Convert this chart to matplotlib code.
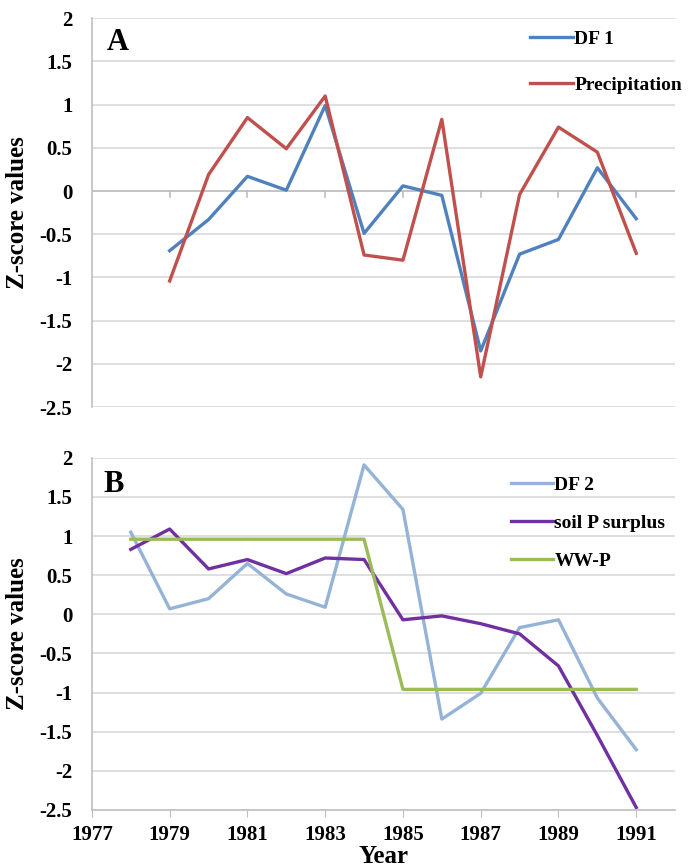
import matplotlib.pyplot as plt

plt.rcParams['font.family'] = ['Liberation Serif', 'DejaVu Serif']
plt.rcParams['font.weight'] = 'bold'

# panel A: discriminant function 1 vs precipitation
years_a = list(range(1979, 1992))
df1 = [-0.69, -0.33, 0.17, 0.01, 0.99, -0.49, 0.06, -0.05, -1.85, -0.73, -0.56, 0.27, -0.32]
precip = [-1.04, 0.19, 0.85, 0.49, 1.10, -0.74, -0.80, 0.83, -2.15, -0.04, 0.74, 0.45, -0.72]

# panel B: discriminant function 2 vs soil P surplus and WW-P
years_b = list(range(1978, 1992))
df2 = [1.05, 0.07, 0.20, 0.65, 0.26, 0.09, 1.91, 1.34, -1.34, -1.01, -0.17, -0.07, -1.07, -1.73]
soil_p = [0.83, 1.09, 0.58, 0.70, 0.52, 0.72, 0.70, -0.07, -0.02, -0.12, -0.25, -0.66, -1.55, -2.47]
ww_p = [0.96, 0.96, 0.96, 0.96, 0.96, 0.96, 0.96, -0.96, -0.96, -0.96, -0.96, -0.96, -0.96, -0.96]

y_ticks = [2, 1.5, 1, 0.5, 0, -0.5, -1, -1.5, -2, -2.5]
x_ticks = [1977, 1979, 1981, 1983, 1985, 1987, 1989, 1991]

grid_color = '#D9D9D9'
axis_color = '#BFBFBF'
lw = 2.4
tick_size = 15

fig = plt.figure(figsize=(6.91, 8.68), dpi=100)
ax_a = fig.add_axes([0.133, 0.531, 0.844, 0.448])
ax_b = fig.add_axes([0.133, 0.067, 0.844, 0.4055])


def style_axes(ax):
    ax.set_xlim(1977, 1992)
    ax.set_ylim(-2.5, 2)
    ax.set_yticks(y_ticks)
    ax.set_yticklabels([f'{v:g}' for v in y_ticks])
    for v in y_ticks:
        ax.axhline(v, color=grid_color, linewidth=1.2, zorder=0)
    for s in ['top', 'right', 'bottom']:
        ax.spines[s].set_visible(False)
    ax.spines['left'].set_color(axis_color)
    ax.spines['left'].set_linewidth(1.2)
    ax.tick_params(axis='y', length=0, labelsize=tick_size, pad=14)
    ax.set_ylabel('Z-score values', fontsize=18, fontweight='bold', labelpad=8)


style_axes(ax_a)
ax_a.axhline(0, color=axis_color, linewidth=1.2, zorder=0)
ax_a.set_xticks([])
for x in x_ticks[1:]:
    ax_a.plot([x, x], [0, -0.07], color=axis_color, linewidth=1.2, zorder=0)
ax_a.plot(years_a, df1, color='#4F81BD', linewidth=lw, label='DF 1')
ax_a.plot(years_a, precip, color='#C0504D', linewidth=lw, label='Precipitation')
ax_a.text(0.025, 0.975, 'A', transform=ax_a.transAxes, fontsize=22, fontweight='bold',
          va='top', ha='left')
ax_a.legend(loc='upper left', bbox_to_anchor=(0.732, 1.0), frameon=False,
            fontsize=14, handlelength=2.2, handletextpad=0.05, labelspacing=1.5,
            borderaxespad=0.2)

style_axes(ax_b)
ax_b.spines['bottom'].set_visible(True)
ax_b.spines['bottom'].set_color(axis_color)
ax_b.spines['bottom'].set_linewidth(1.2)
ax_b.set_xticks(x_ticks)
ax_b.tick_params(axis='x', direction='out', length=5, color=axis_color,
                 labelsize=tick_size, pad=6)
ax_b.plot(years_b, df2, color='#95B3D7', linewidth=lw, label='DF 2')
ax_b.plot(years_b, soil_p, color='#7030A0', linewidth=lw, label='soil P surplus')
ax_b.plot(years_b, ww_p, color='#9BBB59', linewidth=lw, label='WW-P')
ax_b.text(0.02, 0.965, 'B', transform=ax_b.transAxes, fontsize=22, fontweight='bold',
          va='top', ha='left')
ax_b.set_xlabel('Year', fontsize=18, fontweight='bold', labelpad=0)
ax_b.legend(loc='upper left', bbox_to_anchor=(0.698, 0.98), frameon=False,
            fontsize=14, handlelength=2.2, handletextpad=0.05, labelspacing=1.05,
            borderaxespad=0.2)

plt.savefig('out.png', dpi=100)
plt.close('all')
